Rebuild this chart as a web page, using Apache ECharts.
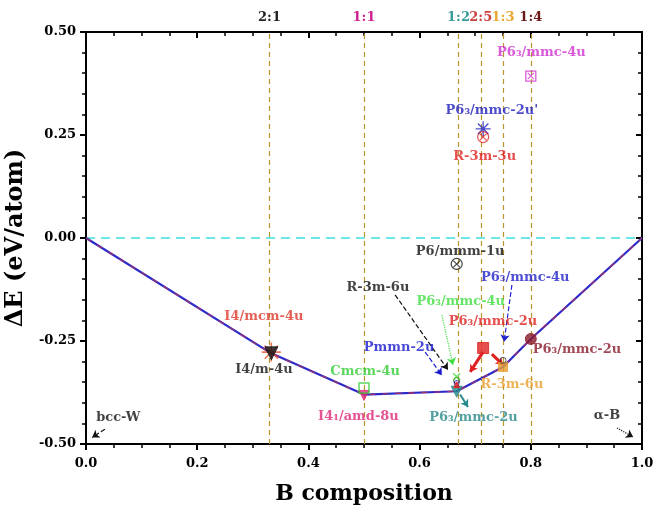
<!DOCTYPE html>
<html>
<head>
<meta charset="utf-8">
<script src="https://cdn.jsdelivr.net/npm/echarts@6/dist/echarts.min.js"></script>
<style>html,body{margin:0;padding:0;background:#fff}#c{width:653px;height:506px}</style>
</head>
<body>
<div id="c"></div>
<script>
// ---- data ----
const hullX = [0, 1/3, 0.5, 2/3, 0.75, 0.8, 1];
const hullE = [0, -0.28, -0.38, -0.372, -0.313, -0.245, 0];

const ratioX = [1/3, 0.5, 2/3, 5/7, 0.75, 0.8];
const ratioLabels = ['2:1', '1:1', '1:2', '2:5', '1:3', '1:4'];

const phaseNames = ['I4/mcm-4u', 'I4/m-4u', 'I4₁/amd-8u', 'Cmcm-4u', 'P6₃/mmc-2u (teal)', 'Pmmn-2u', 'R-3m-6u (black)',
  'P6₃/mmc-4u (green)', 'P6₃/mmc-2u (red)', 'R-3m-6u', 'P6₃/mmc-4u (blue)', 'P6₃/mmc-2u', 'P6₃/mmc-2u (2:5)',
  'P6/mmm-1u', "P6₃/mmc-2u'", 'R-3m-3u', 'P6₃/mmc-4u (1:4)'];
const phaseX = [1/3, 1/3, 0.5, 0.5, 2/3, 2/3, 2/3, 2/3, 2/3, 0.75, 0.75, 0.8, 5/7, 2/3, 5/7, 5/7, 0.8];
const phaseE = [-0.277, -0.28, -0.382, -0.364, -0.373, -0.352, -0.346, -0.337, -0.356, -0.313, -0.297, -0.245, -0.267, -0.063, 0.265, 0.245, 0.393];

const labelTexts = ['I4/mcm-4u', 'I4/m-4u', 'Cmcm-4u', 'Pmmn-2u', 'I4₁/amd-8u', 'P6₃/mmc-2u', 'R-3m-6u', 'P6₃/mmc-2u',
  'P6₃/mmc-2u', 'P6₃/mmc-4u', 'P6₃/mmc-4u', 'P6/mmm-1u', 'R-3m-6u', 'P6₃/mmc-4u', "P6₃/mmc-2u'", 'R-3m-3u', 'bcc-W', 'α-B'];
const labelX = [0.32, 0.32, 0.502, 0.563, 0.49, 0.697, 0.766, 0.883, 0.732, 0.674, 0.79, 0.673, 0.525, 0.819, 0.73, 0.717, 0.058, 0.937];
const labelY = [-0.19, -0.32, -0.325, -0.267, -0.434, -0.437, -0.357, -0.272, -0.204, -0.155, -0.095, -0.034, -0.121, 0.451, 0.31, 0.197, -0.435, -0.43];

const arrowFrom = [[0.034, -0.464], [0.955, -0.461], [0.556, -0.138], [0.61, -0.277], [0.64, -0.187], [0.766, -0.114], [0.673, -0.38], [0.714, -0.277], [0.73, -0.282]];
const arrowTo   = [[0.011, -0.484], [0.984, -0.483], [0.651, -0.320], [0.64, -0.333], [0.66, -0.308], [0.752, -0.252], [0.687, -0.41], [0.691, -0.325], [0.75, -0.308]];

// ---- styles ----
const FONT = 'DejaVu Serif';
const ratioColors = ['#222222', '#d0208f', '#3a9a9a', '#c84040', '#e8a830', '#6a1a1a'];
const labelColors = ['#e03a2a', '#111111', '#33cc33', '#1a1acc', '#e0287a', '#2a8a8a', '#e8a030', '#8b1a2a',
  '#e02020', '#40dd40', '#2020cc', '#111111', '#111111', '#d030d0', '#2020bb', '#e02020', '#111111', '#111111'];
const arrowColors = ['#111', '#111', '#111', '#1a1acc', '#40dd40', '#2020cc', '#2a8a8a', '#e02020', '#e02020'];
const arrowTypes = ['dashed', 'dotted', 'dashed', 'dashed', 'dotted', 'dashed', 'solid', 'solid', 'solid'];
const arrowWidths = [1.2, 1.2, 1.2, 1.2, 1.2, 1.2, 2, 3, 3];

const STAR = 'path://M0,5L10,5M5,0L5,10M1.5,1.5L8.5,8.5M8.5,1.5L1.5,8.5';
const XMARK = 'path://M0,0L10,10M10,0L0,10';
const markerStyles = [
  {symbol: STAR, size: 19, fill: 'none', stroke: '#e85030', w: 1.6},
  {symbol: 'triangle', rotate: 180, size: 13, fill: '#111', stroke: '#111'},
  {symbol: 'triangle', rotate: 180, size: 10, fill: '#e0287a', stroke: '#e0287a'},
  {symbol: 'rect', size: 10, fill: 'none', stroke: '#33cc33', w: 1.5},
  {symbol: 'triangle', rotate: 180, size: 11, fill: '#2a8a8a', stroke: '#2a8a8a'},
  {symbol: 'circle', size: 5, fill: 'none', stroke: '#1a1acc', w: 1},
  {symbol: 'circle', size: 6, fill: 'none', stroke: '#111', w: 1},
  {symbol: XMARK, size: 7, fill: 'none', stroke: '#40dd40', w: 1.5},
  {symbol: 'triangle', size: 6, fill: '#e02020', stroke: '#e02020'},
  {symbol: 'rect', size: 9, fill: '#e8a030', stroke: '#e8a030'},
  {symbol: 'circle', size: 6, fill: 'none', stroke: '#333', w: 1},
  {symbol: 'circle', size: 11, fill: '#8b1a2a', stroke: '#8b1a2a'},
  {symbol: 'rect', size: 11, fill: '#e02020', stroke: '#e02020'},
  {symbol: 'circle', size: 11, fill: 'none', stroke: '#111', w: 1.2, x: true},
  {symbol: STAR, size: 15, fill: 'none', stroke: '#2020bb', w: 1.3},
  {symbol: 'circle', size: 11, fill: 'none', stroke: '#e02020', w: 1.2, x: true},
  {symbol: 'rect', size: 10, fill: 'none', stroke: '#d030d0', w: 1.3, x: true}
];

const markerData = [];
const markerX = [];
phaseX.forEach((x, i) => {
  const s = markerStyles[i];
  markerData.push({
    name: phaseNames[i], value: [x, phaseE[i]], symbol: s.symbol, symbolSize: s.size, symbolRotate: s.rotate || 0,
    itemStyle: {color: s.fill, borderColor: s.stroke, borderWidth: s.w || 1}
  });
  if (s.x) {
    markerX.push({
      value: [x, phaseE[i]], symbol: XMARK, symbolSize: s.size * 0.62,
      itemStyle: {color: 'none', borderColor: s.stroke, borderWidth: 1.1}
    });
  }
});

const labelData = labelTexts.map((t, i) => ({
  name: t, value: [labelX[i], labelY[i]],
  label: {color: labelColors[i]}
}));

const arrowData = arrowFrom.map((f, i) => {
  const ls = {color: arrowColors[i], type: arrowTypes[i], width: arrowWidths[i]};
  return [{coord: f, lineStyle: ls}, {coord: arrowTo[i], lineStyle: ls}];
});

const refLines = [{yAxis: 0, label: {show: false}, lineStyle: {color: '#40dede', type: [9, 6], width: 1.6}}]
  .concat(ratioX.map((x, i) => ({
    xAxis: x,
    label: {show: true, position: 'end', formatter: ratioLabels[i], color: ratioColors[i],
      fontFamily: FONT, fontWeight: 'bold', fontSize: 13, distance: 8},
    lineStyle: {color: '#b8962e', type: [5, 4], width: 1.2}
  })));

const axisLineStyle = {color: '#000', width: 2};
const tickLabel = {fontFamily: FONT, fontWeight: 'bold', fontSize: 13, color: '#000'};

const option = {
  animation: false,
  backgroundColor: '#fff',
  grid: {left: 86, right: 11, top: 32, bottom: 62, containLabel: false, outerBoundsMode: 'none'},
  xAxis: [
    {type: 'value', min: 0, max: 1, interval: 0.2, position: 'bottom',
      axisLine: {show: true, onZero: false, lineStyle: axisLineStyle},
      axisTick: {show: true, inside: false, length: 6, lineStyle: {width: 2, color: '#000'}},
      minorTick: {show: true, splitNumber: 4, length: 4, lineStyle: {width: 1.5, color: '#000'}},
      splitLine: {show: false},
      axisLabel: Object.assign({formatter: v => v.toFixed(1), margin: 13}, tickLabel),
      name: 'B composition', nameLocation: 'middle', nameGap: 39,
      nameTextStyle: {fontFamily: FONT, fontWeight: 'bold', fontSize: 22, color: '#000'}},
    {type: 'value', min: 0, max: 1, interval: 0.2, position: 'top',
      axisLine: {show: true, onZero: false, lineStyle: axisLineStyle},
      axisTick: {show: true, inside: true, length: 6, lineStyle: {width: 2, color: '#000'}},
      minorTick: {show: true, splitNumber: 4, length: 4, lineStyle: {width: 1.5, color: '#000'}},
      splitLine: {show: false}, axisLabel: {show: false}}
  ],
  yAxis: [
    {type: 'value', min: -0.5, max: 0.5, interval: 0.25, position: 'left',
      axisLine: {show: true, onZero: false, lineStyle: axisLineStyle},
      axisTick: {show: true, inside: false, length: 6, lineStyle: {width: 2, color: '#000'}},
      minorTick: {show: true, splitNumber: 5, length: 4, lineStyle: {width: 1.5, color: '#000'}},
      splitLine: {show: false},
      axisLabel: Object.assign({formatter: v => v.toFixed(2), margin: 10}, tickLabel),
      name: 'ΔE (eV/atom)', nameLocation: 'middle', nameGap: 51,
      nameTextStyle: {fontFamily: FONT, fontWeight: 'bold', fontSize: 24, color: '#000'}},
    {type: 'value', min: -0.5, max: 0.5, interval: 0.25, position: 'right',
      axisLine: {show: true, onZero: false, lineStyle: axisLineStyle},
      axisTick: {show: true, inside: true, length: 6, lineStyle: {width: 2, color: '#000'}},
      minorTick: {show: true, splitNumber: 5, length: 4, lineStyle: {width: 1.5, color: '#000'}},
      splitLine: {show: false}, axisLabel: {show: false}}
  ],
  series: [
    {type: 'line', name: 'hull', data: hullX.map((x, i) => [x, hullE[i]]), symbol: 'none', z: 3,
      lineStyle: {color: '#2a2acc', width: 2.2},
      markLine: {silent: true, symbol: 'none', data: refLines, z: 1}},
    {type: 'line', name: 'hull2', data: hullX.map((x, i) => [x, hullE[i]]), symbol: 'none', z: 4,
      lineStyle: {color: '#a0306a', width: 1.3, type: [6, 7]}},
    {type: 'scatter', name: 'phases', data: markerData, z: 6},
    {type: 'scatter', name: 'phasesX', data: markerX, z: 7},
    {type: 'scatter', name: 'labels', data: labelData, symbolSize: 1, z: 8, silent: true,
      itemStyle: {color: 'rgba(0,0,0,0)'},
      label: {show: true, position: 'inside', formatter: p => p.name, fontFamily: FONT, fontWeight: 'bold', fontSize: 13},
      markLine: {silent: true, symbol: ['none', 'arrow'], symbolSize: 7, label: {show: false}, data: arrowData}}
  ]
};

const chart = echarts.init(document.getElementById('c'), null, {renderer: 'canvas'});
chart.setOption(option);
</script>
</body>
</html>
